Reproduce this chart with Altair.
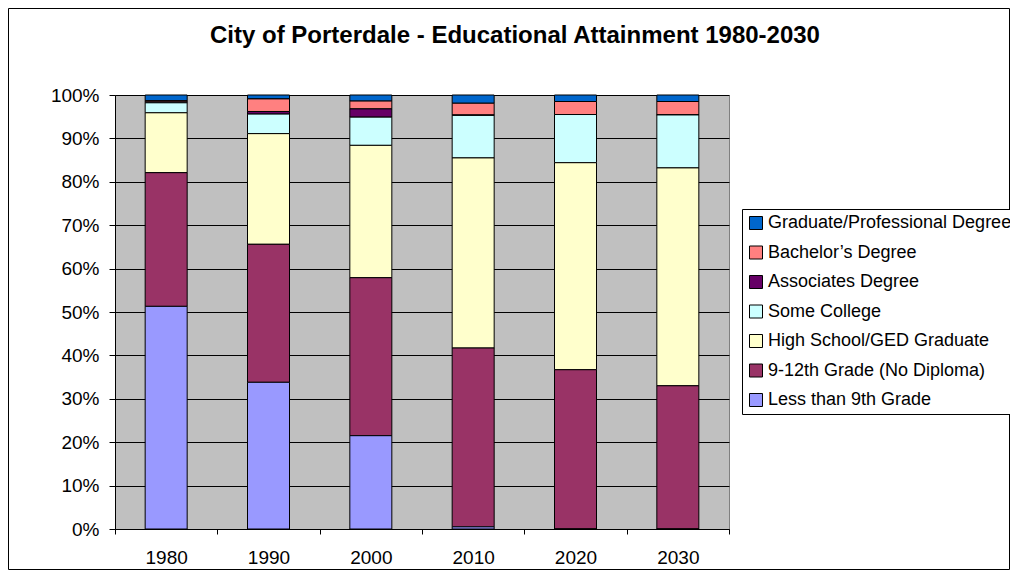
import altair as alt
import pandas as pd

years = ["1980", "1990", "2000", "2010", "2020", "2030"]

categories = [
    "Graduate/Professional Degree",
    "Bachelor’s Degree",
    "Associates Degree",
    "Some College",
    "High School/GED Graduate",
    "9-12th Grade (No Diploma)",
    "Less than 9th Grade",
]
colors = ["#0066CC", "#FF8080", "#660066", "#CCFFFF", "#FFFFCC", "#993366", "#9999FF"]

# percent values per category, by year
grad = [1.3, 0.9, 1.4, 1.9, 1.5, 1.5]
bach = [0.3, 2.9, 1.8, 2.7, 3.0, 3.1]
assoc = [0.2, 0.6, 1.9, 0.1, 0.0, 0.0]
some_college = [2.3, 4.5, 6.5, 9.8, 11.1, 12.2]
high_school = [13.8, 25.5, 30.5, 43.8, 47.7, 50.2]
grade_9_12 = [30.8, 31.8, 36.4, 41.2, 36.7, 33.0]
less_9th = [51.3, 33.8, 21.5, 0.5, 0.0, 0.0]

title_text = "City of Porterdale - Educational Attainment 1980-2030"

series = [grad, bach, assoc, some_college, high_school, grade_9_12, less_9th]

rows = []
for ci, (cat, vals) in enumerate(zip(categories, series)):
    for y, v in zip(years, vals):
        rows.append({"year": y, "category": cat, "value": v, "rank": len(categories) - 1 - ci})
df = pd.DataFrame(rows)

FONT = "Liberation Sans"

bars = alt.Chart(df).mark_bar(width=42, stroke="black", strokeWidth=1).encode(
    x=alt.X(
        "year:N",
        sort=years,
        title=None,
        scale=alt.Scale(paddingInner=0, paddingOuter=0),
        axis=alt.Axis(
            labelAngle=0,
            tickBand="extent",
            grid=False,
            tickSize=5,
            labelPadding=14,
            labelFontSize=19,
            labelFont=FONT,
            labelColor="black",
            domainColor="black",
            tickColor="black",
        ),
    ),
    y=alt.Y(
        "value:Q",
        stack="normalize",
        title=None,
        scale=alt.Scale(domain=[0, 1], nice=False),
        axis=alt.Axis(
            values=[0, 0.1, 0.2, 0.3, 0.4, 0.5, 0.6, 0.7, 0.8, 0.9, 1.0],
            format=".0%",
            grid=True,
            gridColor="black",
            gridWidth=1,
            gridOpacity=1,
            tickSize=6,
            labelPadding=10,
            labelFontSize=19,
            labelFont=FONT,
            labelColor="black",
            domainColor="black",
            tickColor="black",
        ),
    ),
    color=alt.Color(
        "category:N",
        scale=alt.Scale(domain=categories, range=colors),
        sort=categories,
        legend=alt.Legend(
            title=None,
            orient="none",
            legendX=627,
            legendY=114,
            symbolType="square",
            symbolSize=169,
            symbolStrokeColor="black",
            symbolStrokeWidth=1,
            symbolOpacity=1,
            labelFont=FONT,
            labelFontSize=18,
            labelColor="black",
            labelOffset=3,
            labelLimit=400,
            rowPadding=11.5,
            padding=5,
            strokeColor="black",
            fillColor="white",
        ),
    ),
    order=alt.Order("rank:Q", sort="ascending"),
)

title = alt.Chart(alt.Data(values=[{"t": title_text}])).mark_text(
    font=FONT, fontSize=24, fontWeight="bold", color="black",
    align="center", baseline="alphabetic", clip=False,
).encode(text="t:N", x=alt.value(400), y=alt.value(-52))

border = alt.Chart(alt.Data(values=[{}])).mark_rect(
    fillOpacity=0, stroke="black", strokeWidth=1, clip=False
).encode(
    x=alt.value(-106.5), x2=alt.value(894.5), y=alt.value(-86.5), y2=alt.value(474.5)
)

chart = alt.layer(bars, title, border).properties(
    width=614,
    height=434,
    padding={"left": 107, "top": 87, "right": 281, "bottom": 41},
    autosize=alt.AutoSizeParams(type="none"),
    background="white",
).configure_view(fill="#C0C0C0", stroke="#808080", strokeWidth=1)

chart.save("out.html", embed_options={"renderer": "svg", "actions": False})
